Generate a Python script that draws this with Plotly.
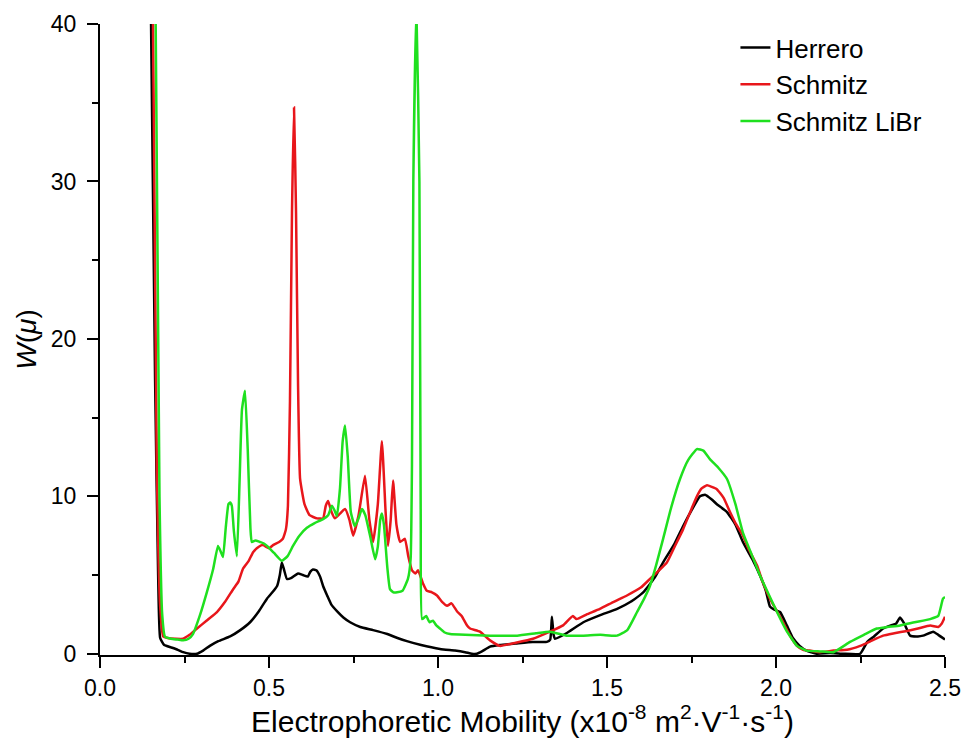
import plotly.graph_objects as go

# ---------------- data ----------------
herrero_x = [0.150, 0.163, 0.172, 0.178, 0.190, 0.210, 0.230, 0.246, 0.265, 0.287, 0.305, 0.325,
             0.350, 0.385, 0.415, 0.444, 0.470, 0.494, 0.510, 0.524, 0.532, 0.538, 0.545, 0.553,
             0.565, 0.586, 0.600, 0.615, 0.622, 0.630, 0.640, 0.651, 0.660, 0.672, 0.685, 0.701,
             0.720, 0.740, 0.770, 0.808, 0.850, 0.880, 0.908, 0.950, 1.006, 1.050, 1.080, 1.100,
             1.115, 1.130, 1.154, 1.183, 1.230, 1.280, 1.322, 1.332, 1.337, 1.342, 1.346, 1.380,
             1.430, 1.480, 1.530, 1.570, 1.607, 1.640, 1.666, 1.700, 1.725, 1.750, 1.775, 1.790,
             1.810, 1.825, 1.855, 1.880, 1.902, 1.930, 1.953, 1.970, 1.982, 1.995, 2.012, 2.032,
             2.050, 2.070, 2.090, 2.120, 2.160, 2.200, 2.249, 2.270, 2.290, 2.317, 2.340, 2.355,
             2.367, 2.380, 2.397, 2.420, 2.435, 2.465, 2.480, 2.500]
herrero_y = [42, 17.4, 5, 1.0, 0.55, 0.4, 0.25, 0.1, 0.0, 0.0, 0.2, 0.5,
             0.8, 1.1, 1.5, 2.0, 2.7, 3.5, 3.9, 4.3, 5.0, 5.8, 5.3, 4.75,
             4.8, 5.1, 5.0, 4.9, 5.2, 5.35, 5.3, 4.9, 4.3, 3.7, 3.1, 2.7,
             2.3, 2.0, 1.7, 1.5, 1.25, 1.0, 0.8, 0.55, 0.3, 0.2, 0.1, 0.0,
             0.0, 0.15, 0.45, 0.55, 0.65, 0.75, 0.75, 0.9, 2.35, 1.2, 0.95, 1.3,
             2.0, 2.45, 2.85, 3.3, 3.9, 4.8, 5.8, 7.0, 8.1, 9.1, 10.0, 10.1,
             9.8, 9.5, 9.0, 8.2, 7.1, 6.0, 4.95, 4.0, 3.0, 2.8, 2.65, 1.8,
             1.0, 0.5, 0.2, 0.0, 0.05, 0.0, 0.0, 0.75, 1.1, 1.6, 1.8, 1.9,
             2.3, 1.9, 1.15, 1.1, 1.15, 1.4, 1.2, 0.9]

schmitz_x = [0.156, 0.168, 0.178, 0.187, 0.200, 0.225, 0.246, 0.265, 0.287, 0.315, 0.346, 0.370,
             0.394, 0.410, 0.423, 0.440, 0.453, 0.470, 0.482, 0.500, 0.512, 0.530, 0.541, 0.550,
             0.556, 0.562, 0.568, 0.574, 0.580, 0.586, 0.592, 0.605, 0.620, 0.642, 0.660, 0.668,
             0.675, 0.685, 0.695, 0.710, 0.725, 0.738, 0.749, 0.765, 0.784, 0.797, 0.808, 0.822,
             0.834, 0.845, 0.852, 0.860, 0.867, 0.877, 0.888, 0.902, 0.912, 0.923, 0.933, 0.941,
             0.955, 0.967, 0.982, 0.997, 1.012, 1.027, 1.040, 1.056, 1.070, 1.086, 1.095, 1.124,
             1.154, 1.183, 1.230, 1.281, 1.331, 1.370, 1.399, 1.410, 1.440, 1.479, 1.520, 1.559,
             1.600, 1.627, 1.677, 1.700, 1.725, 1.750, 1.766, 1.780, 1.796, 1.810, 1.825, 1.845,
             1.864, 1.880, 1.902, 1.920, 1.944, 1.960, 1.982, 2.000, 2.021, 2.040, 2.062, 2.080,
             2.100, 2.130, 2.170, 2.210, 2.249, 2.280, 2.317, 2.350, 2.388, 2.420, 2.456, 2.480,
             2.490, 2.500]
schmitz_y = [42, 12, 3, 1.1, 1.0, 0.95, 0.95, 1.2, 1.6, 2.1, 2.65, 3.3,
             4.1, 4.6, 5.4, 5.9, 6.45, 6.8, 6.9, 6.7, 6.9, 7.1, 7.3, 7.9,
             9.4, 16, 28, 34.7, 28, 17, 11.1, 9.5, 8.8, 8.6, 8.6, 9.4,
             9.7, 9.0, 8.6, 8.9, 9.2, 8.5, 7.5, 8.8, 11.3, 8.5, 7.1, 9.5,
             13.5, 9.0, 6.85, 8.5, 11.0, 8.2, 7.1, 7.3, 6.2, 5.3, 5.1, 5.3,
             4.5, 4.0, 3.9, 3.7, 3.3, 3.05, 3.2, 2.7, 2.4, 1.8, 1.6, 1.4,
             0.85, 0.5, 0.7, 0.95, 1.4, 1.8, 2.4, 2.2, 2.5, 2.85, 3.3, 3.7,
             4.2, 4.75, 5.8, 6.8, 7.9, 9.2, 10.0, 10.5, 10.7, 10.6, 10.45, 9.9,
             9.0, 8.3, 7.5, 6.6, 5.6, 4.6, 3.5, 2.8, 2.0, 1.2, 0.5, 0.25,
             0.2, 0.1, 0.2, 0.25, 0.5, 0.8, 1.15, 1.3, 1.45, 1.6, 1.8, 1.7,
             1.9, 2.35]

libr_x = [0.164, 0.176, 0.184, 0.192, 0.210, 0.230, 0.246, 0.262, 0.275, 0.295, 0.316, 0.335,
          0.349, 0.357, 0.364, 0.372, 0.380, 0.385, 0.390, 0.396, 0.405, 0.413, 0.420, 0.429,
          0.437, 0.445, 0.449, 0.460, 0.473, 0.485, 0.494, 0.515, 0.538, 0.555, 0.571, 0.590,
          0.612, 0.635, 0.660, 0.675, 0.686, 0.694, 0.701, 0.710, 0.718, 0.725, 0.733, 0.742,
          0.754, 0.765, 0.775, 0.785, 0.800, 0.814, 0.822, 0.829, 0.834, 0.840, 0.850, 0.858,
          0.868, 0.879, 0.895, 0.911, 0.919, 0.923, 0.927, 0.936, 0.945, 0.949, 0.953, 0.965,
          0.975, 0.985, 0.995, 1.006, 1.020, 1.036, 1.080, 1.154, 1.234, 1.290, 1.331, 1.380,
          1.430, 1.480, 1.530, 1.560, 1.589, 1.610, 1.627, 1.645, 1.666, 1.690, 1.716, 1.740,
          1.766, 1.785, 1.805, 1.830, 1.855, 1.880, 1.902, 1.930, 1.953, 1.980, 2.003, 2.030,
          2.062, 2.090, 2.130, 2.170, 2.219, 2.260, 2.298, 2.330, 2.367, 2.410, 2.456, 2.480,
          2.494, 2.500]
libr_y = [42, 10, 2.5, 1.1, 0.95, 0.9, 0.85, 0.95, 1.25, 2.4, 3.9, 5.4,
          6.85, 6.5, 6.15, 8.0, 9.5, 9.6, 9.4, 7.8, 6.2, 11, 15.5, 16.7,
          13, 8.0, 7.1, 7.2, 7.1, 7.0, 6.85, 6.4, 5.9, 6.2, 6.85, 7.5,
          8.0, 8.3, 8.55, 8.8, 9.4, 9.1, 8.75, 10.5, 13.5, 14.5, 12.5, 9.0,
          8.1, 8.6, 9.2, 8.8, 7.4, 6.0, 6.8, 8.5, 8.9, 8.2, 5.5, 4.1,
          3.9, 3.9, 4.0, 4.75, 6.0, 12, 30, 41, 30, 8, 2.2, 2.4,
          2.0, 2.1, 1.8, 1.6, 1.35, 1.25, 1.2, 1.15, 1.15, 1.3, 1.4, 1.15,
          1.15, 1.2, 1.15, 1.5, 2.65, 3.5, 4.3, 5.6, 7.3, 9.3, 11.1, 12.3,
          13.0, 12.9, 12.35, 11.8, 11.1, 9.5, 7.7, 6.2, 4.95, 3.7, 2.65, 1.5,
          0.5, 0.2, 0.15, 0.1, 0.75, 1.2, 1.6, 1.7, 1.8, 2.0, 2.2, 2.4,
          3.5, 3.6]

series_names = ["Herrero", "Schmitz", "Schmitz LiBr"]
series_colors = ["#000000", "#e8161b", "#1fe01f"]

x_tick_vals = [0.0, 0.5, 1.0, 1.5, 2.0, 2.5]
x_tick_text = ["0.0", "0.5", "1.0", "1.5", "2.0", "2.5"]
y_tick_vals = [0, 10, 20, 30, 40]
y_tick_text = ["0", "10", "20", "30", "40"]

# ---------------- figure ----------------
FONT = "Liberation Sans, Arial, sans-serif"
fig = go.Figure()
for name, xs, ys, col in zip(series_names,
                             [herrero_x, schmitz_x, libr_x],
                             [herrero_y, schmitz_y, libr_y],
                             series_colors):
    fig.add_trace(go.Scatter(x=xs, y=ys, mode="lines", name=name,
                             line=dict(color=col, width=2.5, shape="spline", smoothing=0.4)))

fig.update_layout(
    width=965, height=738,
    margin=dict(l=100, r=20, t=24, b=83, autoexpand=False),
    paper_bgcolor="white", plot_bgcolor="white",
    font=dict(family=FONT, color="black"),
    showlegend=True,
    legend=dict(x=0.752, y=1.0, xanchor="left", yanchor="top",
                font=dict(size=26, family=FONT), bgcolor="rgba(0,0,0,0)",
                tracegroupgap=0, itemwidth=30),
)
fig.update_xaxes(
    range=[0, 2.5], tickvals=x_tick_vals, ticktext=x_tick_text, automargin=False,
    showgrid=False, zeroline=False, showline=True, linecolor="black", linewidth=2,
    ticks="outside", ticklen=11, tickwidth=2, tickcolor="black",
    tickfont=dict(size=23, family=FONT), ticklabelstandoff=0,
    minor=dict(ticks="outside", dtick=0.25, tick0=0, ticklen=6, tickwidth=2, tickcolor="black"),
    title=dict(text="Electrophoretic Mobility (x10<sup>-8</sup> m<sup>2</sup>·V<sup>-1</sup>·s<sup>-1</sup>)",
               font=dict(size=30, family=FONT), standoff=1),
)
fig.update_yaxes(
    range=[-0.08, 40], tickvals=y_tick_vals, ticktext=y_tick_text, automargin=False,
    showgrid=False, zeroline=False, showline=True, linecolor="black", linewidth=2,
    ticks="outside", ticklen=11, tickwidth=2, tickcolor="black",
    tickfont=dict(size=23, family=FONT), ticklabelstandoff=6,
    minor=dict(ticks="outside", dtick=5, tick0=0, ticklen=6, tickwidth=2, tickcolor="black"),
    title=dict(text="<i>W</i>(<i>μ</i>)", font=dict(size=28, family=FONT), standoff=6),
)

fig.write_html("out.html")
